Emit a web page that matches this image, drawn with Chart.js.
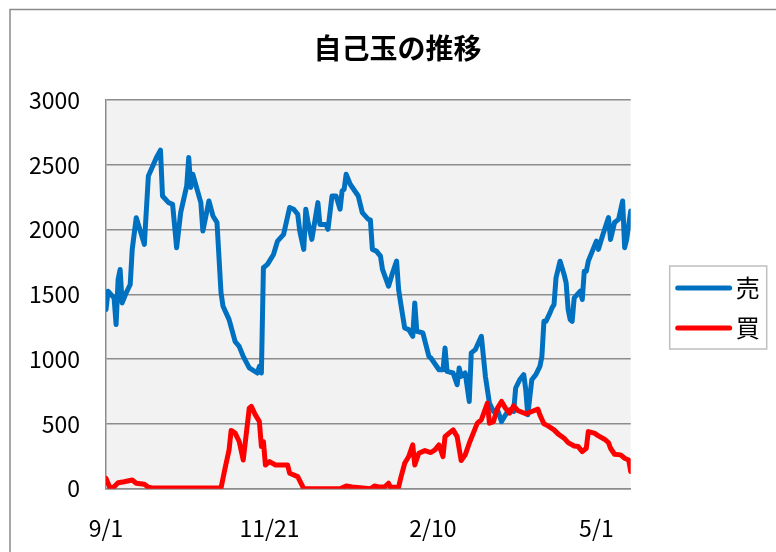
<!DOCTYPE html>
<html>
<head>
<meta charset="utf-8">
<script src="https://cdn.jsdelivr.net/npm/chart.js@4/dist/chart.umd.min.js"></script>
<style>
  html, body { margin: 0; padding: 0; background: #fff; }
  #wrap { width: 776px; height: 552px; }
</style>
</head>
<body>
<div id="wrap"><canvas id="lineChart" width="776" height="552"></canvas></div>
<script>
// days counted from 9/1
var tickDays = [0, 81, 162, 243];
var tickLabels = ['9/1', '11/21', '2/10', '5/1'];

var seriesNames = ['売', '買'];

var sellDays = [
    0, 1, 4, 5, 6, 7, 8, 10, 12, 13,
    15, 19, 21, 25, 27, 28, 31, 33, 35, 37,
    40, 41, 42, 43, 47, 48, 51, 53, 55, 57,
    58, 61, 64, 66, 68, 71, 75, 76, 77, 78,
    80, 83, 85, 88, 91, 93, 95, 96, 98, 99,
    100, 102, 105, 106, 109, 110, 112, 114, 116, 117,
    118, 119, 121, 125, 127, 130, 131, 132, 134, 136,
    137, 140, 142, 144, 145, 146, 148, 150, 152, 153,
    154, 157, 160, 161, 165, 167, 168, 169, 172, 174,
    175, 176, 178, 180, 181, 183, 186, 188, 190, 192,
    194, 196, 199, 200, 202, 203, 205, 207, 208, 209,
    211, 213, 215, 216, 217, 218, 220, 221, 222, 223,
    225, 227, 228, 229, 230, 231, 232, 235, 236, 237,
    238, 239, 241, 243, 244, 246, 249, 250, 252, 254,
    256, 257, 258, 260
];
var sellValues = [
    1383, 1524, 1473, 1267, 1615, 1692, 1434, 1512, 1576, 1847,
    2092, 1886, 2414, 2557, 2613, 2259, 2208, 2195, 1860, 2131,
    2337, 2557, 2325, 2427, 2208, 1989, 2221, 2105, 2054, 1512,
    1408, 1305, 1135, 1099, 1021, 932, 893, 944, 893, 1705,
    1731, 1808, 1911, 1963, 2170, 2157, 2118, 1989, 1847, 2157,
    2066, 1924, 2208, 2040, 2040, 2002, 2259, 2259, 2157, 2298,
    2311, 2427, 2350, 2259, 2131, 2079, 2075, 1847, 1834, 1795,
    1692, 1563, 1667, 1756, 1537, 1434, 1241, 1228, 1176, 1434,
    1215, 1202, 1021, 1009, 918, 918, 1086, 905, 893, 802,
    932, 867, 893, 673, 1048, 1073, 1176, 867, 661, 596,
    609, 518, 596, 609, 596, 777, 841, 880, 764, 570,
    841, 880, 944, 1021, 1292, 1292, 1357, 1396, 1421, 1628,
    1756, 1654, 1589, 1383, 1305, 1292, 1473, 1524, 1460, 1679,
    1679, 1756, 1834, 1911, 1847, 1950, 2092, 1924, 2054, 2079,
    2221, 1860, 1924, 2143
];

var buyDays = [
    0, 2, 4, 6, 9, 13, 15, 19, 21, 23,
    57, 59, 61, 62, 64, 66, 68, 71, 72, 74,
    76, 77, 78, 79, 81, 84, 90, 91, 95, 98,
    116, 119, 122, 131, 133, 135, 138, 140, 141, 145,
    146, 148, 150, 152, 153, 155, 158, 161, 163, 165,
    167, 168, 170, 172, 174, 176, 178, 180, 182, 184,
    186, 189, 190, 192, 194, 196, 198, 200, 202, 204,
    208, 211, 214, 215, 217, 219, 222, 224, 227, 229,
    232, 234, 236, 238, 239, 242, 244, 247, 249, 250,
    252, 255, 257, 259, 260
];
var buyValues = [
    80, 5, 15, 46, 54, 67, 42, 34, 11, 5,
    5, 158, 300, 450, 429, 364, 222, 622, 635, 570,
    518, 325, 364, 183, 209, 183, 183, 119, 93, 0,
    0, 21, 13, 0, 21, 13, 13, 42, 11, 13,
    80, 196, 248, 338, 183, 274, 294, 279, 300, 338,
    248, 402, 429, 454, 402, 217, 261, 351, 429, 506,
    532, 661, 506, 518, 622, 673, 620, 583, 640, 604,
    578, 596, 614, 570, 501, 485, 454, 423, 390, 356,
    330, 325, 286, 312, 441, 429, 408, 382, 356, 312,
    266, 261, 235, 222, 132
];

function toPoints(days, values) {
    var pts = [];
    for (var i = 0; i < days.length; i++) {
        pts.push({x: days[i], y: values[i]});
    }
    return pts;
}

var FONT = "'Noto Sans CJK JP', 'Noto Sans', sans-serif";
var GRID = '#8c8c8c';

// plot background, outer frame and the boxed legend
var decor = {
    id: 'decor',
    beforeDraw: function(chart) {
        var c = chart.ctx, a = chart.chartArea;
        c.save();
        c.fillStyle = '#f2f2f2';
        c.fillRect(a.left, a.top, a.right - a.left, a.bottom - a.top);
        c.strokeStyle = '#8a8a8a';
        c.lineWidth = 1.5;
        c.strokeRect(10, 9.5, 900, 700);
        c.restore();
    },
    afterDraw: function(chart) {
        var c = chart.ctx, a = chart.chartArea;
        var left = a.right + 39, top = a.top + 166, w = 97, h = 83;
        c.save();
        c.fillStyle = '#fff';
        c.fillRect(left, top, w, h);
        c.strokeStyle = '#bfbfbf';
        c.lineWidth = 1.5;
        c.strokeRect(left, top, w, h);
        c.font = '24px ' + FONT;
        c.textBaseline = 'middle';
        chart.data.datasets.forEach(function(ds, i) {
            var y = top + 22 + i * 40;
            c.strokeStyle = ds.borderColor;
            c.lineWidth = 5;
            c.lineCap = 'round';
            c.beginPath();
            c.moveTo(left + 8, y);
            c.lineTo(left + 60, y);
            c.stroke();
            c.fillStyle = '#000';
            c.fillText(ds.label, left + 66, y);
        });
        c.restore();
    }
};

var ctx = document.getElementById('lineChart').getContext('2d');
var lineChart = new Chart(ctx, {
    type: 'line',
    data: {
        datasets: [
            {
                label: seriesNames[0],
                data: toPoints(sellDays, sellValues),
                borderColor: '#0070c0',
                borderWidth: 5,
                order: 1
            },
            {
                label: seriesNames[1],
                data: toPoints(buyDays, buyValues),
                borderColor: '#ff0000',
                borderWidth: 5,
                order: 0
            }
        ]
    },
    options: {
        responsive: false,
        animation: false,
        events: [],
        layout: { padding: { left: 19, right: 0, top: 0, bottom: 0 } },
        elements: {
            point: { radius: 0 },
            line: { tension: 0, borderJoinStyle: 'round', borderCapStyle: 'round' }
        },
        plugins: {
            legend: { display: false },
            tooltip: { enabled: false },
            title: {
                display: true,
                text: '自己玉の推移',
                color: '#000',
                font: { family: FONT, size: 28, weight: 'bold', lineHeight: 1.2 },
                padding: { top: 32, bottom: 34.4 }
            }
        },
        scales: {
            x: {
                type: 'linear',
                min: 0,
                max: 260,
                afterBuildTicks: function(s) {
                    s.ticks = tickDays.map(function(d) { return {value: d}; });
                },
                afterFit: function(s) { s.height = 63.3; },
                grid: { display: false, drawTicks: false },
                border: { display: true, color: GRID, width: 1.5 },
                ticks: {
                    autoSkip: false,
                    maxRotation: 0,
                    padding: 26,
                    color: '#000',
                    font: { family: FONT, size: 23 },
                    callback: function(v, i) { return tickLabels[i]; }
                }
            },
            y: {
                min: 0,
                max: 3000,
                afterFit: function(s) { s.width = 87; },
                grid: { color: GRID, lineWidth: 1.5, drawTicks: false },
                border: { display: true, color: GRID, width: 1.5 },
                ticks: {
                    stepSize: 500,
                    padding: 26,
                    color: '#000',
                    font: { family: FONT, size: 23 },
                    callback: function(v) { return String(v); }
                }
            },
            yR: {
                position: 'right',
                afterFit: function(s) { s.width = 145.3; },
                grid: { display: false, drawTicks: false },
                border: { display: false },
                ticks: { display: false }
            }
        }
    },
    plugins: [decor]
});
</script>
</body>
</html>
